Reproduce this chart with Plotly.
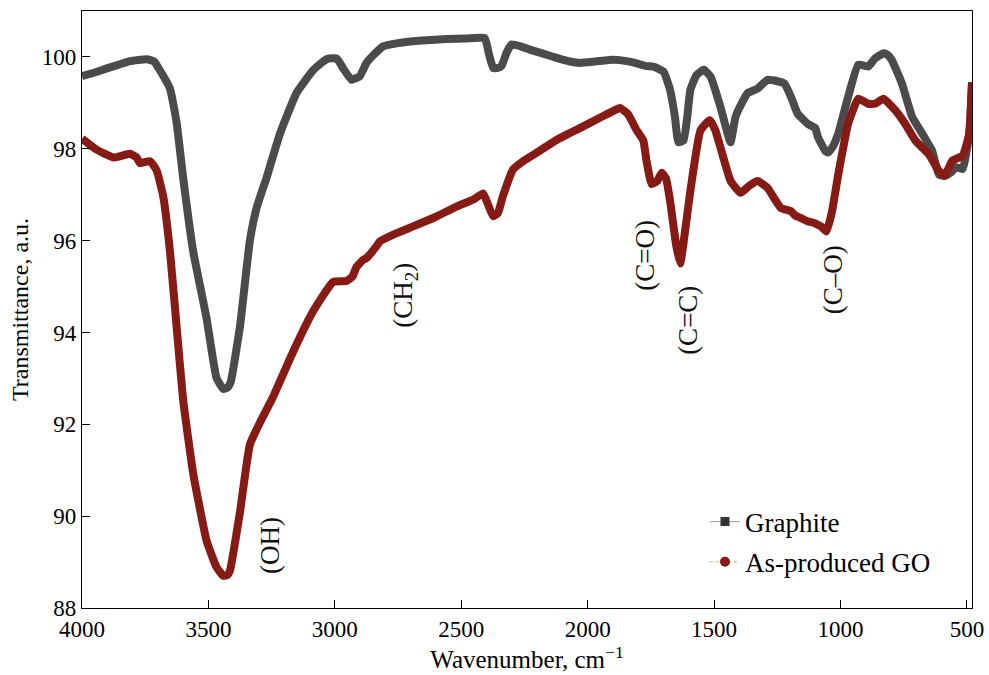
import plotly.graph_objects as go

# Graphite spectrum (wavenumber cm^-1, transmittance)
gr_x = [4000, 3950, 3902, 3850, 3810, 3744, 3715, 3692, 3652, 3626, 3600, 3560, 3507, 3468, 3441, 3425,
        3412, 3375, 3336, 3309, 3270, 3217, 3151, 3086, 3033, 2993, 2967, 2934, 2915, 2901, 2875, 2849,
        2809, 2750, 2690, 2620, 2558, 2480, 2407, 2390, 2374, 2355, 2341, 2320, 2301, 2260, 2229, 2170,
        2123, 2070, 2031, 1970, 1900, 1873, 1820, 1768, 1740, 1700, 1674, 1655, 1641, 1621, 1606, 1594,
        1570, 1541, 1514, 1475, 1450, 1435, 1415, 1390, 1368, 1328, 1289, 1250, 1222, 1196, 1180, 1169,
        1129, 1100, 1089, 1060, 1049, 1030, 1009, 970, 930, 900, 890, 863, 830, 815, 797, 757, 717,
        677, 638, 611, 585, 560, 544, 517, 491, 480]
gr_y = [99.58, 99.66, 99.75, 99.84, 99.91, 99.95, 99.9, 99.71, 99.31, 98.58, 97.37, 95.76, 94.3, 93.01, 92.77, 92.8,
        92.92, 94.14, 96.0, 96.72, 97.37, 98.33, 99.22, 99.71, 99.95, 99.97, 99.75, 99.5, 99.54, 99.58, 99.87, 100.03,
        100.23, 100.3, 100.34, 100.37, 100.39, 100.4, 100.41, 100.05, 99.76, 99.76, 99.8, 100.1, 100.27, 100.22, 100.16, 100.06,
        99.98, 99.9, 99.87, 99.9, 99.94, 99.93, 99.88, 99.8, 99.79, 99.68, 99.28, 98.7, 98.14, 98.18, 98.7, 99.28,
        99.6, 99.72, 99.57, 98.91, 98.4, 98.14, 98.7, 99.0, 99.21, 99.31, 99.5, 99.47, 99.42, 99.13, 98.9, 98.76,
        98.54, 98.45, 98.25, 97.95, 97.92, 98.05, 98.33, 99.13, 99.83, 99.8, 99.79, 99.97, 100.08, 100.05, 99.93, 99.42, 98.7,
        98.33, 97.96, 97.44, 97.41, 97.5, 97.6, 97.56, 98.33, 99.45]

# As-produced GO spectrum
go_x = [4000, 3942, 3876, 3810, 3784, 3771, 3731, 3705, 3679, 3652, 3626, 3600, 3560, 3507, 3468, 3441,
        3425, 3415, 3375, 3336, 3296, 3244, 3165, 3086, 3007, 2954, 2930, 2914, 2888, 2875, 2835, 2822,
        2760, 2690, 2600, 2519, 2450, 2414, 2395, 2374, 2355, 2335, 2295, 2250, 2203, 2120, 2031, 1950,
        1900, 1873, 1840, 1807, 1780, 1768, 1747, 1725, 1707, 1690, 1674, 1650, 1634, 1615, 1594, 1554,
        1517, 1495, 1475, 1435, 1395, 1360, 1328, 1289, 1260, 1236, 1196, 1180, 1156, 1130, 1102, 1075,
        1056, 1035, 1009, 970, 930, 890, 863, 830, 784, 744, 704, 651, 611, 591, 575, 558, 517, 491, 480]
go_y = [98.22, 97.98, 97.81, 97.89, 97.81, 97.69, 97.73, 97.53, 96.97, 95.76, 94.14, 92.53, 90.92, 89.46, 88.89, 88.7,
        88.72, 88.81, 90.1, 91.56, 92.04, 92.6, 93.58, 94.46, 95.1, 95.12, 95.22, 95.43, 95.58, 95.62, 95.88, 95.98,
        96.15, 96.31, 96.52, 96.74, 96.9, 97.03, 96.8, 96.53, 96.6, 96.97, 97.55, 97.75, 97.91, 98.2, 98.45, 98.68,
        98.82, 98.89, 98.75, 98.41, 98.18, 97.76, 97.23, 97.3, 97.48, 97.35, 96.86, 95.9, 95.5, 96.2, 97.08, 98.4,
        98.62, 98.4, 98.03, 97.3, 97.04, 97.2, 97.3, 97.15, 96.9, 96.71, 96.64, 96.55, 96.49, 96.42, 96.38, 96.3,
        96.2, 96.6, 97.44, 98.54, 99.09, 98.98, 98.98, 99.09, 98.84, 98.54, 98.18, 97.88, 97.52, 97.41, 97.55, 97.74, 97.85, 98.33, 99.45]

series_names = ["Graphite", "As-produced GO"]

peak_labels = ["(OH)", "(CH<sub>2</sub>)", "(C=O)", "(C=C)", "(C\u2013O)"]
peak_x = [3257, 2723, 1774, 1604, 1031]
peak_y = [89.37, 94.82, 95.69, 94.27, 95.15]

x_ticks = [4000, 3500, 3000, 2500, 2000, 1500, 1000, 500]
y_ticks = [88, 90, 92, 94, 96, 98, 100]

GRAY = "#4c4a4a"
RED = "#861a14"
FONT = "Liberation Serif, Times New Roman, serif"

fig = go.Figure()
fig.add_trace(go.Scatter(x=gr_x, y=gr_y, mode="lines", line=dict(color=GRAY, width=8, shape="spline", smoothing=0.4),
                         showlegend=False))
fig.add_trace(go.Scatter(x=go_x, y=go_y, mode="lines", line=dict(color=RED, width=8, shape="spline", smoothing=0.4),
                         showlegend=False))
# legend entries
fig.add_trace(go.Scatter(x=[None], y=[None], mode="lines+markers", name=series_names[0], legendgroup="g1",
                         line=dict(color="#a09898", width=1),
                         marker=dict(symbol="square", color="#333333", size=9)))
fig.add_trace(go.Scatter(x=[None], y=[None], mode="lines+markers", name=series_names[1], legendgroup="g2",
                         line=dict(color="#d8a090", width=1, dash="dot"),
                         marker=dict(symbol="circle", color=RED, size=10)))

for t, xv, yv in zip(peak_labels, peak_x, peak_y):
    fig.add_annotation(x=xv, y=yv, text=t, textangle=-90, showarrow=False,
                       font=dict(family=FONT, size=27, color="#111111"))

axis_common = dict(showline=True, linecolor="black", linewidth=1.2, mirror=True, ticks="inside",
                   ticklen=8, tickcolor="black", showgrid=False, zeroline=False, automargin=False,
                   tickfont=dict(family=FONT, size=23, color="black"))

fig.update_xaxes(range=[4000, 480], tickvals=x_ticks, ticktext=[str(v) for v in x_ticks],
                 title=dict(text="Wavenumber, cm<sup>\u22121</sup>", font=dict(family=FONT, size=25, color="black"),
                            standoff=2),
                 **axis_common)
fig.update_yaxes(range=[88, 101], tickvals=y_ticks, ticktext=[str(v) for v in y_ticks],
                 title=dict(text="Transmittance, a.u.", font=dict(family=FONT, size=24, color="black"),
                            standoff=6),
                 **axis_common)

fig.update_layout(
    width=989, height=675,
    margin=dict(l=82, r=17, t=11, b=67),
    plot_bgcolor="white", paper_bgcolor="white",
    font=dict(family=FONT, size=23, color="black"),
    legend=dict(x=0.70, y=0.185, xanchor="left", yanchor="top", bgcolor="rgba(0,0,0,0)",
                font=dict(family=FONT, size=27, color="black"), tracegroupgap=2),
)

fig.write_html("out.html")
